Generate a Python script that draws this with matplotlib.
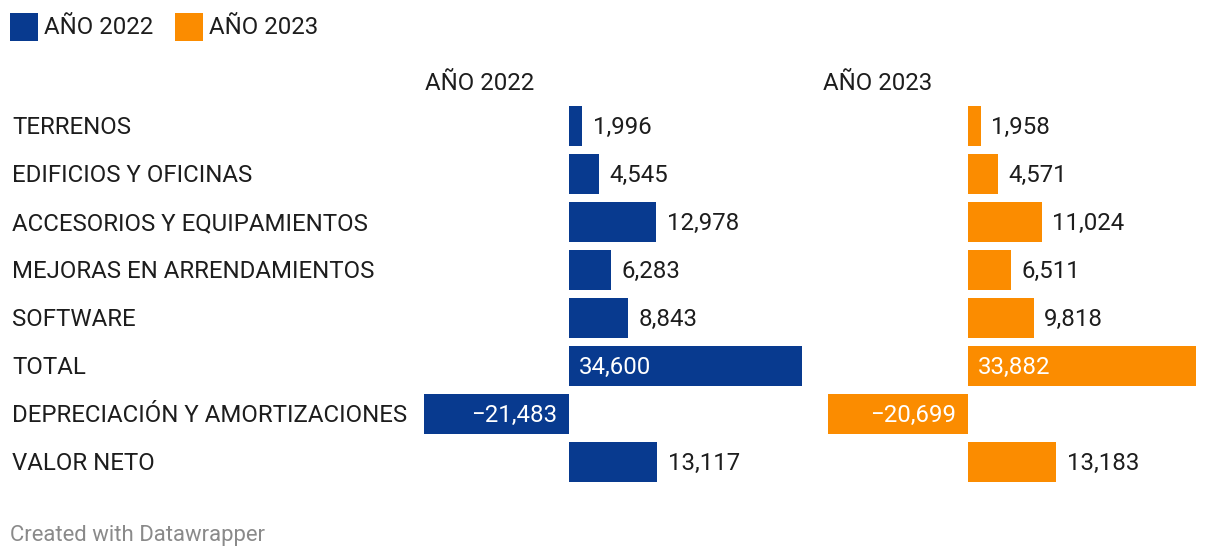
import matplotlib
matplotlib.use("Agg")
import matplotlib.pyplot as plt
from matplotlib.transforms import blended_transform_factory
from matplotlib.patches import Rectangle

categories = ["TERRENOS", "EDIFICIOS Y OFICINAS", "ACCESORIOS Y EQUIPAMIENTOS",
              "MEJORAS EN ARRENDAMIENTOS", "SOFTWARE", "TOTAL",
              "DEPRECIACIÓN Y AMORTIZACIONES", "VALOR NETO"]
values_2022 = [1996, 4545, 12978, 6283, 8843, 34600, -21483, 13117]
values_2023 = [1958, 4571, 11024, 6511, 9818, 33882, -20699, 13183]
series_names = ["AÑO 2022", "AÑO 2023"]

BLUE = "#083a8f"
ORANGE = "#fb8c00"
DARK = "#1d1d1d"
FONT = ["Roboto", "DejaVu Sans"]
FS = 17.3

W, H = 1220, 560
fig = plt.figure(figsize=(W / 100, H / 100), dpi=100)
fig.patch.set_facecolor("white")

def fx(px):
    return px / W

def fy(py):
    return 1 - py / H

top_px, bot_px = 102, 486
panels = [
    (424, 802, values_2022, BLUE, series_names[0], 425),
    (828, 1196, values_2023, ORANGE, series_names[1], 823),
]

DY = -1.4  # points, small downward nudge of text

axes = []
for left, right, vals, color, name, hx in panels:
    ax = fig.add_axes([fx(left), fy(bot_px), (right - left) / W, (bot_px - top_px) / H])
    ax.set_xlim(min(vals), max(vals))
    ax.set_ylim(len(categories) - 0.5, -0.5)
    ax.axis("off")
    ys = list(range(len(categories)))
    ax.barh(ys, vals, height=40 / 48, color=color, linewidth=0)
    inside_thresh = 0.5 * max(vals)
    for y, v in zip(ys, vals):
        label = f"{v:,}".replace("-", "\u2212")
        if v < 0:
            ax.annotate(label, (0, y), xytext=(-8.5, DY), textcoords="offset points",
                        ha="right", va="center", color="white", fontsize=FS, family=FONT)
        elif v > inside_thresh:
            ax.annotate(label, (0, y), xytext=(7.5, DY), textcoords="offset points",
                        ha="left", va="center", color="white", fontsize=FS, family=FONT)
        else:
            ax.annotate(label, (v, y), xytext=(7.5, DY), textcoords="offset points",
                        ha="left", va="center", color=DARK, fontsize=FS, family=FONT)
    fig.text(fx(hx), fy(83), name, ha="left", va="center", fontsize=FS,
             color=DARK, family=FONT)
    axes.append(ax)

tr = blended_transform_factory(fig.transFigure, axes[0].transData)
for i, cat in enumerate(categories):
    axes[0].annotate(cat, (fx(12), i), xycoords=tr, xytext=(0, DY),
                     textcoords="offset points", ha="left", va="center",
                     fontsize=FS, color=DARK, family=FONT, annotation_clip=False)

# legend
for x0, color, name in [(10, BLUE, series_names[0]), (175, ORANGE, series_names[1])]:
    fig.patches.append(Rectangle((fx(x0), fy(41)), 28 / W, 28 / H,
                                 transform=fig.transFigure, color=color, linewidth=0))
    fig.text(fx(x0 + 34), fy(27), name, ha="left", va="center", fontsize=FS,
             color=DARK, family=FONT)

fig.text(fx(10), fy(535), "Created with Datawrapper", ha="left", va="center",
         fontsize=15.9, color="#8a8a8a", family=FONT)

fig.savefig("out.png", dpi=100, facecolor="white")
